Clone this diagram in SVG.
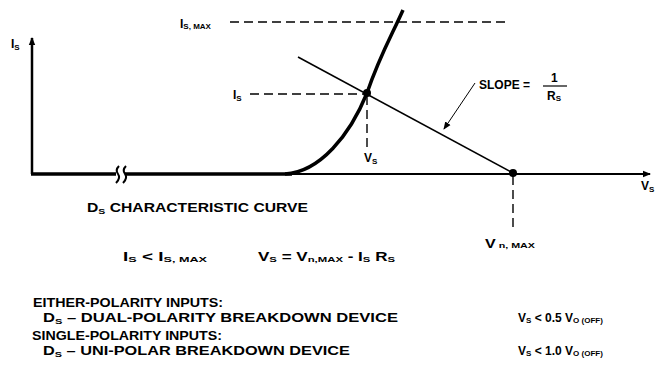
<svg xmlns="http://www.w3.org/2000/svg" width="657" height="373" viewBox="0 0 657 373">
<style>
text{font-family:"Liberation Sans",Arial,sans-serif;fill:#000;font-size:12px;font-weight:bold}
.sub{font-size:8px}
.ax{stroke:#000;fill:none;stroke-linecap:butt}
.dash{stroke:#000;stroke-width:1.4;stroke-dasharray:9 5;fill:none}
</style>
<defs>
<marker id="arr" markerWidth="8" markerHeight="8" refX="7" refY="4" orient="auto" markerUnits="userSpaceOnUse">
<path d="M0,0.8 L8,4 L0,7.2 Z" fill="#000"/>
</marker>
</defs>
<g id="connectors">
<line class="ax" x1="32" y1="174" x2="32" y2="38" stroke-width="2.5" marker-end="url(#arr)"/>
<line class="ax" x1="31" y1="174" x2="292" y2="174" stroke-width="3.5"/>
<line class="ax" x1="290" y1="174" x2="650" y2="174" stroke-width="2" marker-end="url(#arr)"/>
<rect x="116" y="170" width="9" height="8" fill="#fff"/>
<path class="ax" stroke-width="2" d="M119 166 Q115 170 118 174 Q121 178 116 183"/>
<path class="ax" stroke-width="2" d="M126 166 Q122 170 125 174 Q128 178 123 183"/>
<path class="ax" stroke-width="3.5" d="M285 174 C320 172 350 135 367 93 C380 55 392 35 403 10"/>
<line class="ax" x1="298" y1="57" x2="513" y2="173" stroke-width="1.5"/>
<line class="dash" x1="230" y1="22" x2="506" y2="22"/>
<line class="dash" x1="250" y1="94" x2="367" y2="94"/>
<line class="dash" x1="367" y1="96" x2="367" y2="148"/>
<line class="dash" x1="513" y1="176" x2="513" y2="228"/>
<line class="ax" x1="475" y1="83" x2="444" y2="129" stroke-width="1" marker-end="url(#arr)"/>
<line class="ax" x1="543" y1="86" x2="567" y2="86" stroke-width="1.2"/>
<circle cx="367" cy="93" r="4"/>
<circle cx="513" cy="173" r="4"/>
</g>
<g id="labels">
<text x="11" y="48">I<tspan class="sub" dy="2">S</tspan></text>
<text x="180" y="28">I<tspan class="sub" dy="1">S, MAX</tspan></text>
<text x="233" y="99">I<tspan class="sub" dy="2">S</tspan></text>
<text x="364" y="162">V<tspan class="sub" dy="2">S</tspan></text>
<text x="479" y="89" font-size="13">SLOPE =</text>
<text x="551" y="82" font-size="12">1</text>
<text x="547" y="100">R<tspan class="sub" dy="1">S</tspan></text>
<text x="641" y="190">V<tspan class="sub" dy="2">S</tspan></text>
<text x="485" y="248" textLength="50" lengthAdjust="spacingAndGlyphs">V<tspan class="sub"> n, MAX</tspan></text>
<text x="87" y="212" font-size="13" textLength="221" lengthAdjust="spacingAndGlyphs">D<tspan class="sub" dy="2">S</tspan><tspan dy="-2"> CHARACTERISTIC CURVE</tspan></text>
<text x="123" y="261" textLength="84" lengthAdjust="spacingAndGlyphs">I<tspan class="sub" dy="1">S</tspan><tspan dy="-1"> &lt; I</tspan><tspan class="sub" dy="1">S, MAX</tspan></text>
<text x="258" y="261" textLength="137" lengthAdjust="spacingAndGlyphs">V<tspan class="sub" dy="1">S</tspan><tspan dy="-1"> = V</tspan><tspan class="sub" dy="1">n,MAX</tspan><tspan dy="-1"> - I</tspan><tspan class="sub" dy="1">S</tspan><tspan dy="-1"> R</tspan><tspan class="sub" dy="1">S</tspan></text>
<text x="33" y="307" font-size="11" textLength="190" lengthAdjust="spacingAndGlyphs">EITHER-POLARITY INPUTS:</text>
<text x="43" y="322" font-size="11" textLength="355" lengthAdjust="spacingAndGlyphs">D<tspan class="sub" dy="2">S</tspan><tspan dy="-2"> – DUAL-POLARITY BREAKDOWN DEVICE</tspan></text>
<text x="518" y="322">V<tspan class="sub" dy="1">S</tspan><tspan dy="-1"> &lt; 0.5 V</tspan><tspan class="sub" dy="1">O (OFF)</tspan></text>
<text x="32" y="340" font-size="11" textLength="190" lengthAdjust="spacingAndGlyphs">SINGLE-POLARITY INPUTS:</text>
<text x="43" y="355" font-size="11" textLength="307" lengthAdjust="spacingAndGlyphs">D<tspan class="sub" dy="2">S</tspan><tspan dy="-2"> – UNI-POLAR BREAKDOWN DEVICE</tspan></text>
<text x="518" y="355">V<tspan class="sub" dy="1">S</tspan><tspan dy="-1"> &lt; 1.0 V</tspan><tspan class="sub" dy="1">O (OFF)</tspan></text>
</g>
</svg>
